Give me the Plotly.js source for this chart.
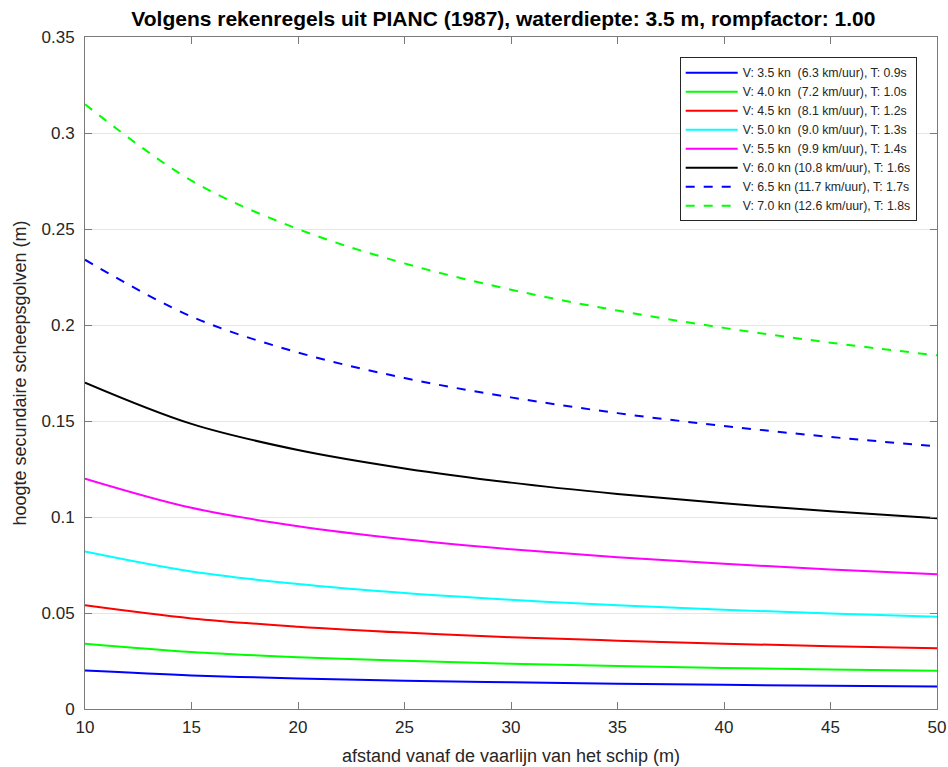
<!DOCTYPE html>
<html>
<head>
<meta charset="utf-8">
<script src="https://cdn.plot.ly/plotly-3.0.1.min.js"></script>
<style>html,body{margin:0;padding:0;background:#fff;}</style>
</head>
<body>
<div id="chart" style="width:948px;height:767px;"></div>
<script>
const afstand = [10, 15, 20, 25, 30, 35, 40, 45, 50];

const labels = [
  "V: 3.5 kn \u00a0(6.3 km/uur), T: 0.9s",
  "V: 4.0 kn \u00a0(7.2 km/uur), T: 1.0s",
  "V: 4.5 kn \u00a0(8.1 km/uur), T: 1.2s",
  "V: 5.0 kn \u00a0(9.0 km/uur), T: 1.3s",
  "V: 5.5 kn \u00a0(9.9 km/uur), T: 1.4s",
  "V: 6.0 kn (10.8 km/uur), T: 1.6s",
  "V: 6.5 kn (11.7 km/uur), T: 1.7s",
  "V: 7.0 kn (12.6 km/uur), T: 1.8s"
];

const h35 = [0.020, 0.0175, 0.0159, 0.0147, 0.0139, 0.0132, 0.0126, 0.0121, 0.0117];
const h40 = [0.034, 0.0297, 0.0270, 0.0251, 0.0236, 0.0224, 0.0214, 0.0206, 0.0199];
const h45 = [0.054, 0.0472, 0.0429, 0.0398, 0.0374, 0.0356, 0.0340, 0.0327, 0.0316];
const h50 = [0.082, 0.0716, 0.0651, 0.0604, 0.0569, 0.0540, 0.0517, 0.0497, 0.0480];
const h55 = [0.120, 0.1048, 0.0952, 0.0884, 0.0832, 0.0790, 0.0756, 0.0727, 0.0702];
const h60 = [0.170, 0.1485, 0.1349, 0.1253, 0.1179, 0.1120, 0.1071, 0.1030, 0.0994];
const h65 = [0.234, 0.2044, 0.1857, 0.1724, 0.1623, 0.1541, 0.1474, 0.1417, 0.1368];
const h70 = [0.315, 0.2752, 0.2500, 0.2321, 0.2184, 0.2075, 0.1985, 0.1908, 0.1842];

const series = [h35, h40, h45, h50, h55, h60, h65, h70];
const colors = ['#0000ff', '#00ff00', '#ff0000', '#00ffff', '#ff00ff', '#000000', '#0000ff', '#00ff00'];
const dashes = ['solid', 'solid', 'solid', 'solid', 'solid', 'solid', 'dash', 'dash'];

const traces = series.map((ys, i) => ({
  x: afstand, y: ys, type: 'scatter', mode: 'lines', name: labels[i],
  line: {color: colors[i], width: 2, dash: dashes[i], shape: 'spline', smoothing: 1}
}));

const font = 'Liberation Sans, Arial, sans-serif';
const axisCommon = {
  showline: true, linecolor: '#7a7a7a', linewidth: 1, mirror: 'allticks',
  ticks: 'inside', ticklen: 7, tickcolor: '#7a7a7a', tickwidth: 1,
  zeroline: false, tickfont: {family: font, size: 17, color: '#262626'}
};

const layout = {
  width: 948, height: 767,
  margin: {l: 85, r: 11, t: 37, b: 58},
  paper_bgcolor: '#fff', plot_bgcolor: '#fff',
  title: {text: '<b>Volgens rekenregels uit PIANC (1987), waterdiepte: 3.5 m, rompfactor: 1.00</b>',
          font: {family: font, size: 21, color: '#000'}, x: 0.531, xanchor: 'center', y: 0.976, yanchor: 'middle'},
  xaxis: Object.assign({}, axisCommon, {
    range: [10, 50], tickvals: [10, 15, 20, 25, 30, 35, 40, 45, 50], showgrid: false,
    ticklabelstandoff: 3,
    title: {text: 'afstand vanaf de vaarlijn van het schip (m)', font: {family: font, size: 18, color: '#262626'}, standoff: 12}
  }),
  yaxis: Object.assign({}, axisCommon, {
    range: [0, 0.35], tickvals: [0, 0.05, 0.1, 0.15, 0.2, 0.25, 0.3, 0.35],
    ticktext: ['0', '0.05', '0.1', '0.15', '0.2', '0.25', '0.3', '0.35'],
    showgrid: true, gridcolor: '#e6e6e6', gridwidth: 1,
    ticklabelstandoff: 6,
    title: {text: 'hoogte secundaire scheepsgolven (m)', font: {family: font, size: 18, color: '#262626'}, standoff: 10}
  }),
  showlegend: true,
  legend: {x: 0.698, y: 0.97, xanchor: 'left', yanchor: 'top',
           bgcolor: '#fff', bordercolor: '#262626', borderwidth: 1, itemwidth: 52,
           font: {family: font, size: 12.3, color: '#262626'}, tracegroupgap: 0}
};

Plotly.newPlot('chart', traces, layout, {displayModeBar: false, staticPlot: true});
</script>
</body>
</html>
